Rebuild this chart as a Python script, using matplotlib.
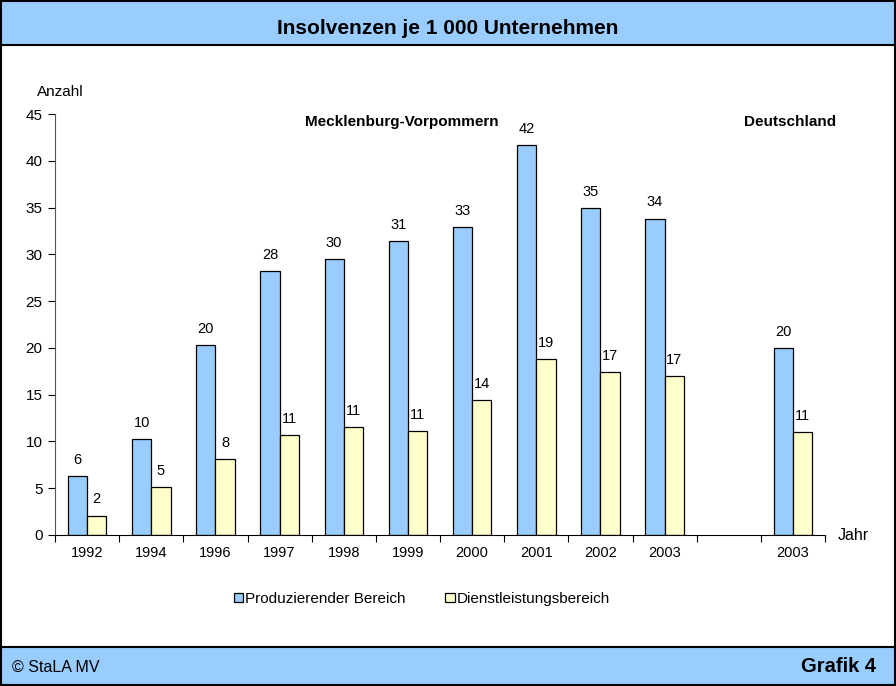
import numpy as np
import matplotlib
matplotlib.use('Agg')
import matplotlib.pyplot as plt
from matplotlib.patches import Rectangle

plt.rcParams['font.family'] = ['Liberation Sans', 'DejaVu Sans']

# data (gap slot between the MV years and Deutschland)
jahre = ['1992', '1994', '1996', '1997', '1998', '1999', '2000', '2001', '2002', '2003', '', '2003']
produzierend = [6.3, 10.25, 20.3, 28.2, 29.5, 31.4, 32.9, 41.65, 34.9, 33.8, np.nan, 20.0]
dienstleistung = [2.05, 5.1, 8.1, 10.65, 11.5, 11.1, 14.4, 18.8, 17.4, 17.0, np.nan, 11.0]
label_prod = ['6', '10', '20', '28', '30', '31', '33', '42', '35', '34', '', '20']
label_dienst = ['2', '5', '8', '11', '11', '11', '14', '19', '17', '17', '', '11']

blau = '#99CCFF'
gelb = '#FFFFCC'

W, H = 896, 686
fig = plt.figure(figsize=(W / 100, H / 100), dpi=100)

# title bar and footer bar
fig.patches.append(Rectangle((0, 1 - 45 / H), 1, 45 / H, transform=fig.transFigure,
                             facecolor=blau, edgecolor='black', linewidth=1.5, zorder=0))
fig.patches.append(Rectangle((0, 0), 1, 39 / H, transform=fig.transFigure,
                             facecolor=blau, edgecolor='black', linewidth=1.5, zorder=0))
fig.patches.append(Rectangle((0.001, 0.001), 0.998, 0.998, transform=fig.transFigure,
                             facecolor='none', edgecolor='black', linewidth=1.5, zorder=0))

fig.text(0.5, 1 - 29 / H, 'Insolvenzen je 1 000 Unternehmen', ha='center', va='center',
         fontsize=15, fontweight='bold')
fig.text(12 / W, 19 / H, '© StaLA MV', ha='left', va='center', fontsize=11.5)
fig.text(876 / W, 19 / H, 'Grafik 4', ha='right', va='center', fontsize=14.5, fontweight='bold')

ax = fig.add_axes([55 / W, (H - 535) / H, 770 / W, 421 / H])
x = np.arange(len(jahre))
bw = 0.3
b1 = ax.bar(x - bw / 2, produzierend, bw, color=blau, edgecolor='black', linewidth=0.9,
            label='Produzierender Bereich')
b2 = ax.bar(x + bw / 2, dienstleistung, bw, color=gelb, edgecolor='black', linewidth=0.9,
            label='Dienstleistungsbereich')

for i in range(len(jahre)):
    if label_prod[i]:
        ax.text(x[i] - bw / 2, produzierend[i] + 1.0, label_prod[i], ha='center', va='bottom', fontsize=10.5)
    if label_dienst[i]:
        ax.text(x[i] + bw / 2, dienstleistung[i] + 1.0, label_dienst[i], ha='center', va='bottom', fontsize=10.5)

ax.set_xlim(-0.5, len(jahre) - 0.5)
ax.set_ylim(0, 45)
ax.set_yticks(range(0, 46, 5))
ax.set_xticks(np.arange(-0.5, len(jahre), 1))
ax.set_xticklabels([])
ax.set_xticks(x, minor=True)
ax.set_xticklabels(jahre, minor=True)
ax.tick_params(axis='x', which='minor', length=0, pad=8, labelsize=10.5)
ax.tick_params(axis='x', which='major', length=5, direction='out', color='black')
ax.tick_params(axis='y', length=5, direction='out', labelsize=11, pad=4)
ax.spines['top'].set_visible(False)
ax.spines['right'].set_visible(False)
ax.spines['left'].set_color('#555555')
ax.spines['bottom'].set_color('black')
ax.set_facecolor('none')

fig.text(37 / W, 1 - 92 / H, 'Anzahl', ha='left', va='center', fontsize=11)
fig.text(838 / W, 1 - 535 / H, 'Jahr', ha='left', va='center', fontsize=11.5)
fig.text(305 / W, 1 - 122 / H, 'Mecklenburg-Vorpommern', ha='left', va='center', fontsize=11, fontweight='bold')
fig.text(744 / W, 1 - 122 / H, 'Deutschland', ha='left', va='center', fontsize=11, fontweight='bold')

fig.legend(handles=[b1, b2], loc='center', bbox_to_anchor=(422 / W, 1 - 599 / H), ncol=2,
           frameon=False, fontsize=11, handlelength=0.6, handleheight=0.6, handletextpad=0.15,
           columnspacing=2.6)

fig.savefig('out.png', dpi=100)
